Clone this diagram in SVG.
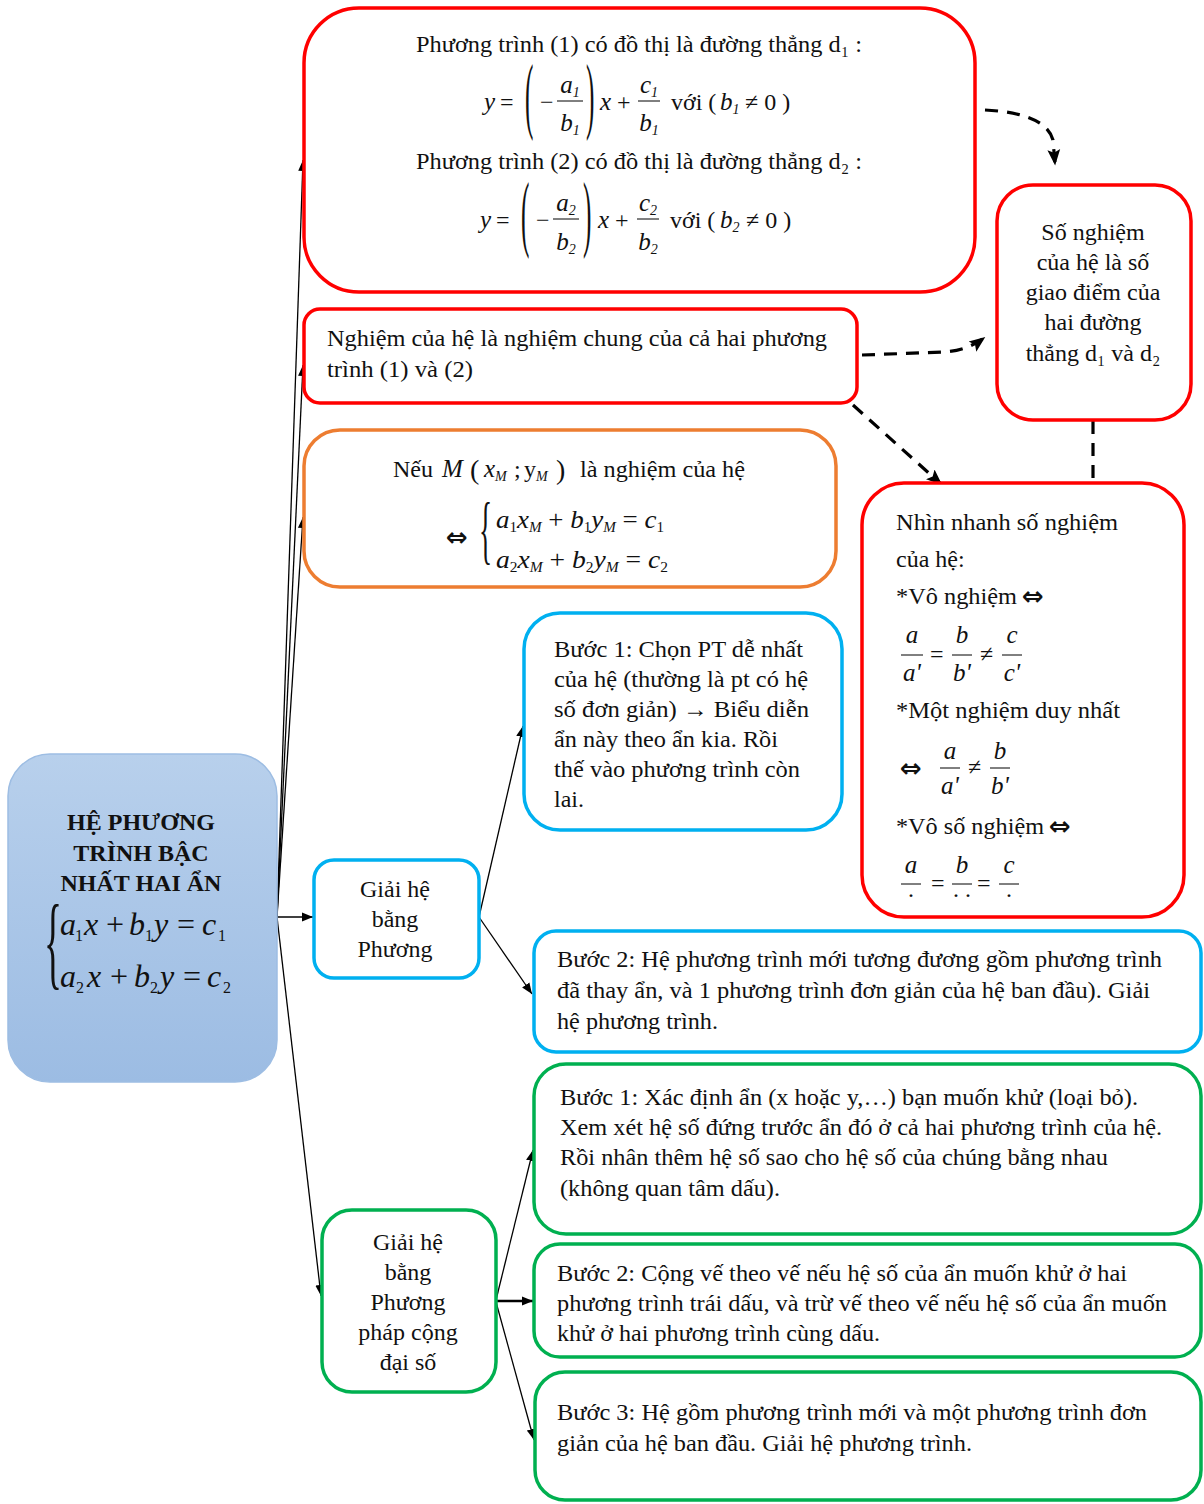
<svg xmlns="http://www.w3.org/2000/svg" width="1204" height="1504" viewBox="0 0 1204 1504">
<defs>
<linearGradient id="lg" x1="0" y1="0" x2="0" y2="1">
<stop offset="0" stop-color="#b8d0ec"/>
<stop offset="1" stop-color="#9cbce3"/>
</linearGradient>
<marker id="ah" viewBox="0 0 10 10" refX="10" refY="5" markerWidth="11" markerHeight="11" markerUnits="userSpaceOnUse" orient="auto">
<path d="M0,1 L10,5 L0,9 z" fill="#000"/>
</marker>
<marker id="dh" viewBox="0 0 10 10" refX="9" refY="5" markerWidth="16" markerHeight="16" markerUnits="userSpaceOnUse" orient="auto">
<path d="M0,1 L10,5 L0,9 L2,5 z" fill="#000"/>
</marker>
<clipPath id="clipG2"><rect x="540" y="1250" width="650" height="98"/></clipPath>
<clipPath id="clipB0"><rect x="318" y="862" width="156" height="100"/></clipPath>
<clipPath id="clipNN"><rect x="880" y="490" width="300" height="412"/></clipPath>
</defs>
<style>
text{font-family:"Liberation Serif","Times New Roman",Times,serif;fill:#111;}
.t{font-size:24px;}
.c{text-anchor:middle;}
.mi{font-style:italic;font-size:25px;}
.mo{font-size:24px;}
.sub{font-size:14px;}
.par{font-size:84px;}
.arr{font-family:"DejaVu Sans",sans-serif;font-size:26px;font-weight:bold;}
.box{fill:#fff;stroke-width:3.5;}
.red{stroke:#ff0000;}
.org{stroke:#ed7d31;}
.blu{stroke:#00b0f0;}
.grn{stroke:#00b050;}
.ln{stroke:#000;stroke-width:1.3;fill:none;}
.fr{stroke:#000;stroke-width:1;}
.dash{stroke:#000;stroke-width:3.2;fill:none;stroke-dasharray:13 9;}
</style>

<g id="connectors">
<line class="ln" x1="277" y1="917" x2="303" y2="160" marker-end="url(#ah)"/>
<line class="ln" x1="277" y1="917" x2="303" y2="365" marker-end="url(#ah)"/>
<line class="ln" x1="277" y1="917" x2="303" y2="517" marker-end="url(#ah)"/>
<line class="ln" x1="277" y1="917" x2="313" y2="917" marker-end="url(#ah)"/>
<line class="ln" x1="277" y1="917" x2="321" y2="1296" marker-end="url(#ah)"/>
<line class="ln" x1="479" y1="917" x2="523" y2="726" marker-end="url(#ah)"/>
<line class="ln" x1="479" y1="917" x2="532" y2="994" marker-end="url(#ah)"/>
<line class="ln" x1="496" y1="1300" x2="533" y2="1150" marker-end="url(#ah)"/>
<line class="ln" x1="496" y1="1301" x2="533" y2="1301" marker-end="url(#ah)" style="stroke-width:2.5"/>
<line class="ln" x1="496" y1="1302" x2="534" y2="1440" marker-end="url(#ah)"/>
<path class="dash" d="M985 110 C1025 112 1048 122 1053 140 L1055 164" marker-end="url(#dh)"/>
<path class="dash" d="M862 355 L945 352 Q968 350 984 338" marker-end="url(#dh)"/>
<path class="dash" d="M853 405 L941 484" marker-end="url(#dh)"/>
<line class="dash" x1="1093" y1="421" x2="1093" y2="483"/>
</g>

<g id="n-root">
<rect x="8" y="754" width="269" height="328" rx="42" fill="url(#lg)" stroke="#9dbde3" stroke-width="1.5"/>
<text x="141" y="830" class="c" font-size="24" font-weight="bold">HỆ PHƯƠNG</text>
<text x="141" y="861" class="c" font-size="24" font-weight="bold">TRÌNH BẬC</text>
<text x="141" y="891" class="c" font-size="24" font-weight="bold">NHẤT HAI ẨN</text>
<text transform="translate(44,976) scale(0.36,1)" font-size="104">{</text>
<g font-size="32" font-style="italic">
<text x="60" y="935">a</text><text x="75" y="941" font-size="16" font-style="normal">1</text>
<text x="84" y="935">x</text><text x="106" y="935" font-style="normal">+</text>
<text x="129" y="935">b</text><text x="145" y="941" font-size="16" font-style="normal">1</text>
<text x="154" y="935">y</text><text x="177" y="935" font-style="normal">=</text>
<text x="202" y="935">c</text><text x="218" y="941" font-size="16" font-style="normal">1</text>
<text x="60" y="987">a</text><text x="76" y="993" font-size="16" font-style="normal">2</text>
<text x="87" y="987">x</text><text x="110" y="987" font-style="normal">+</text>
<text x="134" y="987">b</text><text x="150" y="993" font-size="16" font-style="normal">2</text>
<text x="160" y="987">y</text><text x="183" y="987" font-style="normal">=</text>
<text x="207" y="987">c</text><text x="223" y="993" font-size="16" font-style="normal">2</text>
</g>
</g>

<g id="n-graph">
<rect class="box red" x="304" y="8" width="671" height="284" rx="55"/>
<text x="416" y="52" class="t" textLength="446" lengthAdjust="spacingAndGlyphs">Phương trình (1) có đồ thị là đường thẳng d₁ :</text>
<text x="484" y="110" class="mi">y</text>
<text x="500" y="110" class="mo">=</text>
<text class="par" transform="translate(525,123) scale(0.3,1)">(</text>
<text x="540" y="110" class="mo">−</text>
<text x="570" y="93" class="mi c">a<tspan class="sub" dy="4">1</tspan></text>
<line class="fr" x1="557" y1="101" x2="583" y2="101"/>
<text x="570" y="131" class="mi c">b<tspan class="sub" dy="4">1</tspan></text>
<text class="par" transform="translate(586,123) scale(0.3,1)">)</text>
<text x="600" y="110" class="mi">x</text>
<text x="617" y="110" class="mo">+</text>
<text x="649" y="93" class="mi c">c<tspan class="sub" dy="4">1</tspan></text>
<line class="fr" x1="638" y1="101" x2="660" y2="101"/>
<text x="649" y="131" class="mi c">b<tspan class="sub" dy="4">1</tspan></text>
<text x="671" y="110" class="mo">với (</text>
<text x="720" y="110" class="mi">b<tspan class="sub" dy="4">1</tspan></text>
<text x="745" y="110" class="mo">≠ 0  )</text>
<text x="416" y="169" class="t" textLength="446" lengthAdjust="spacingAndGlyphs">Phương trình (2) có đồ thị là đường thẳng d₂ :</text>
<text x="480" y="228" class="mi">y</text>
<text x="496" y="228" class="mo">=</text>
<text class="par" transform="translate(521,241) scale(0.3,1)">(</text>
<text x="536" y="228" class="mo">−</text>
<text x="566" y="211" class="mi c">a<tspan class="sub" dy="4">2</tspan></text>
<line class="fr" x1="553" y1="219" x2="579" y2="219"/>
<text x="566" y="250" class="mi c">b<tspan class="sub" dy="4">2</tspan></text>
<text class="par" transform="translate(583,241) scale(0.3,1)">)</text>
<text x="598" y="228" class="mi">x</text>
<text x="615" y="228" class="mo">+</text>
<text x="648" y="211" class="mi c">c<tspan class="sub" dy="4">2</tspan></text>
<line class="fr" x1="637" y1="219" x2="659" y2="219"/>
<text x="648" y="250" class="mi c">b<tspan class="sub" dy="4">2</tspan></text>
<text x="670" y="228" class="mo">với (</text>
<text x="720" y="228" class="mi">b<tspan class="sub" dy="4">2</tspan></text>
<text x="746" y="228" class="mo">≠ 0  )</text>
</g>

<g id="n-common">
<rect class="box red" x="304" y="309" width="553" height="94" rx="16"/>
<text x="327" y="346" class="t" textLength="500" lengthAdjust="spacingAndGlyphs">Nghiệm của hệ là nghiệm chung của cả hai phương</text>
<text x="327" y="377" class="t" textLength="146" lengthAdjust="spacingAndGlyphs">trình (1) và (2)</text>
</g>

<g id="n-point">
<rect class="box org" x="304" y="430" width="532" height="157" rx="36"/>
<text x="393" y="477" class="t">Nếu</text>
<text x="442" y="477" class="mi">M</text>
<text x="470" y="479" font-size="28">(</text>
<text x="484" y="477" class="mi">x<tspan class="sub" font-style="italic" dy="4">M</tspan></text>
<text x="514" y="477" class="mo">;</text>
<text x="524" y="477" class="mo">y<tspan class="sub" font-style="italic" dy="4">M</tspan></text>
<text x="556" y="479" font-size="28">)</text>
<text x="580" y="477" class="t" textLength="165" lengthAdjust="spacingAndGlyphs">là nghiệm của hệ</text>
<text x="446" y="546" class="arr">⇔</text>
<text transform="translate(479,555) scale(0.36,1)" font-size="76">{</text>
<text x="496" y="528" class="mi" textLength="168" lengthAdjust="spacingAndGlyphs">a<tspan class="sub" font-style="normal" dy="4">1</tspan><tspan dy="-4">x</tspan><tspan class="sub" dy="4">M</tspan><tspan dy="-4" font-style="normal"> + </tspan><tspan>b</tspan><tspan class="sub" font-style="normal" dy="4">1</tspan><tspan dy="-4">y</tspan><tspan class="sub" dy="4">M</tspan><tspan dy="-4" font-style="normal"> = </tspan><tspan>c</tspan><tspan class="sub" font-style="normal" dy="4">1</tspan></text>
<text x="496" y="568" class="mi" textLength="172" lengthAdjust="spacingAndGlyphs">a<tspan class="sub" font-style="normal" dy="4">2</tspan><tspan dy="-4">x</tspan><tspan class="sub" dy="4">M</tspan><tspan dy="-4" font-style="normal"> + </tspan><tspan>b</tspan><tspan class="sub" font-style="normal" dy="4">2</tspan><tspan dy="-4">y</tspan><tspan class="sub" dy="4">M</tspan><tspan dy="-4" font-style="normal"> = </tspan><tspan>c</tspan><tspan class="sub" font-style="normal" dy="4">2</tspan></text>
</g>

<g id="n-count">
<rect class="box red" x="997" y="185" width="194" height="235" rx="36"/>
<text x="1093" y="240" class="t c">Số nghiệm</text>
<text x="1093" y="270" class="t c">của hệ là số</text>
<text x="1093" y="300" class="t c">giao điểm của</text>
<text x="1093" y="330" class="t c">hai đường</text>
<text x="1093" y="361" class="t c">thẳng d₁ và d₂</text>
</g>

<g id="n-quick">
<rect class="box red" x="862" y="483" width="322" height="434" rx="42"/>
<g clip-path="url(#clipNN)">
<text x="896" y="530" class="t" textLength="222" lengthAdjust="spacingAndGlyphs">Nhìn nhanh số nghiệm</text>
<text x="896" y="567" class="t">của hệ:</text>
<text x="896" y="604" class="t" textLength="121" lengthAdjust="spacingAndGlyphs">*Vô nghiệm</text>
<text x="1022" y="605" class="arr">⇔</text>
<text x="912" y="643" class="mi c" font-size="22">a</text>
<line class="fr" x1="901" y1="655" x2="923" y2="655"/>
<text x="912" y="681" class="mi c" font-size="22">a'</text>
<text x="930" y="662" class="mo">=</text>
<text x="962" y="643" class="mi c" font-size="22">b</text>
<line class="fr" x1="952" y1="655" x2="972" y2="655"/>
<text x="962" y="681" class="mi c" font-size="22">b'</text>
<text x="980" y="662" class="mo">≠</text>
<text x="1012" y="643" class="mi c" font-size="22">c</text>
<line class="fr" x1="1002" y1="655" x2="1022" y2="655"/>
<text x="1012" y="681" class="mi c" font-size="22">c'</text>
<text x="896" y="718" class="t" textLength="224" lengthAdjust="spacingAndGlyphs">*Một nghiệm duy nhất</text>
<text x="900" y="777" class="arr">⇔</text>
<text x="950" y="759" class="mi c" font-size="22">a</text>
<line class="fr" x1="940" y1="768" x2="960" y2="768"/>
<text x="950" y="794" class="mi c" font-size="22">a'</text>
<text x="968" y="775" class="mo">≠</text>
<text x="1000" y="759" class="mi c" font-size="22">b</text>
<line class="fr" x1="990" y1="768" x2="1010" y2="768"/>
<text x="1000" y="794" class="mi c" font-size="22">b'</text>
<text x="896" y="834" class="t" textLength="148" lengthAdjust="spacingAndGlyphs">*Vô số nghiệm</text>
<text x="1049" y="835" class="arr">⇔</text>
<text x="911" y="873" class="mi c" font-size="22">a</text>
<line class="fr" x1="901" y1="884" x2="921" y2="884"/>
<text x="911" y="897" class="mo c" font-size="14">.</text>
<text x="931" y="891" class="mo">=</text>
<text x="962" y="873" class="mi c" font-size="22">b</text>
<line class="fr" x1="952" y1="884" x2="972" y2="884"/>
<text x="962" y="897" class="mo c" font-size="14">. .</text>
<text x="977" y="891" class="mo">=</text>
<text x="1009" y="873" class="mi c" font-size="22">c</text>
<line class="fr" x1="999" y1="884" x2="1019" y2="884"/>
<text x="1009" y="897" class="mo c" font-size="14">.</text>
</g>
</g>

<g id="n-subst">
<rect class="box blu" x="314" y="860" width="165" height="118" rx="20"/>
<g clip-path="url(#clipB0)">
<text x="395" y="897" class="t c">Giải hệ</text>
<text x="395" y="927" class="t c">bằng</text>
<text x="395" y="957" class="t c">Phương</text>
</g>
</g>

<g id="n-subst1">
<rect class="box blu" x="524" y="613" width="318" height="217" rx="36"/>
<text x="554" y="657" class="t" textLength="249" lengthAdjust="spacingAndGlyphs">Bước 1: Chọn PT dễ nhất</text>
<text x="554" y="687" class="t" textLength="254" lengthAdjust="spacingAndGlyphs">của hệ (thường là pt có hệ</text>
<text x="554" y="717" class="t" textLength="255" lengthAdjust="spacingAndGlyphs">số đơn giản) → Biểu diễn</text>
<text x="554" y="747" class="t" textLength="224" lengthAdjust="spacingAndGlyphs">ẩn này theo ẩn kia. Rồi</text>
<text x="554" y="777" class="t" textLength="246" lengthAdjust="spacingAndGlyphs">thế vào phương trình còn</text>
<text x="554" y="807" class="t">lai.</text>
</g>

<g id="n-subst2">
<rect class="box blu" x="534" y="931" width="667" height="121" rx="22"/>
<text x="557" y="967" class="t" textLength="605" lengthAdjust="spacingAndGlyphs">Bước 2: Hệ phương trình mới tương đương gồm phương trình</text>
<text x="557" y="998" class="t" textLength="593" lengthAdjust="spacingAndGlyphs">đã thay ẩn, và 1 phương trình đơn giản của hệ ban đầu). Giải</text>
<text x="557" y="1029" class="t" textLength="161" lengthAdjust="spacingAndGlyphs">hệ phương trình.</text>
</g>

<g id="n-add">
<rect class="box grn" x="322" y="1210" width="174" height="182" rx="30"/>
<text x="408" y="1250" class="t c">Giải hệ</text>
<text x="408" y="1280" class="t c">bằng</text>
<text x="408" y="1310" class="t c">Phương</text>
<text x="408" y="1340" class="t c">pháp cộng</text>
<text x="408" y="1370" class="t c">đại số</text>
</g>

<g id="n-add1">
<rect class="box grn" x="534" y="1064" width="667" height="170" rx="32"/>
<text x="560" y="1105" class="t" textLength="578" lengthAdjust="spacingAndGlyphs">Bước 1: Xác định ẩn (x hoặc y,…) bạn muốn khử (loại bỏ).</text>
<text x="560" y="1135" class="t" textLength="602" lengthAdjust="spacingAndGlyphs">Xem xét hệ số đứng trước ẩn đó ở cả hai phương trình của hệ.</text>
<text x="560" y="1165" class="t" textLength="548" lengthAdjust="spacingAndGlyphs">Rồi nhân thêm hệ số sao cho hệ số của chúng bằng nhau</text>
<text x="560" y="1196" class="t" textLength="220" lengthAdjust="spacingAndGlyphs">(không quan tâm dấu).</text>
</g>

<g id="n-add2">
<rect class="box grn" x="534" y="1244" width="667" height="113" rx="26"/>
<g clip-path="url(#clipG2)">
<text x="557" y="1281" class="t" textLength="570" lengthAdjust="spacingAndGlyphs">Bước 2: Cộng vế theo vế nếu hệ số của ẩn muốn khử ở hai</text>
<text x="557" y="1311" class="t" textLength="610" lengthAdjust="spacingAndGlyphs">phương trình trái dấu, và trừ vế theo vế nếu hệ số của ẩn muốn</text>
<text x="557" y="1341" class="t" textLength="323" lengthAdjust="spacingAndGlyphs">khử ở hai phương trình cùng dấu.</text>
</g>
</g>

<g id="n-add3">
<rect class="box grn" x="535" y="1372" width="666" height="128" rx="30"/>
<text x="557" y="1420" class="t" textLength="590" lengthAdjust="spacingAndGlyphs">Bước 3: Hệ gồm phương trình mới và một phương trình đơn</text>
<text x="557" y="1451" class="t" textLength="415" lengthAdjust="spacingAndGlyphs">giản của hệ ban đầu. Giải hệ phương trình.</text>
</g>
</svg>
